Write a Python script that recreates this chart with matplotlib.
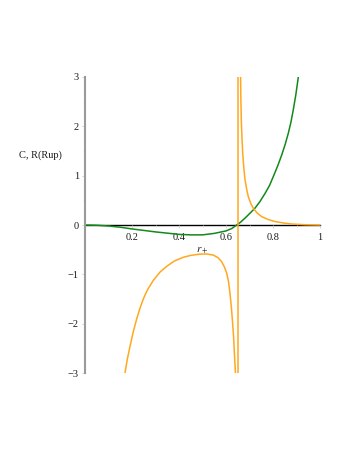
import numpy as np
import matplotlib
matplotlib.use("Agg")
import matplotlib.pyplot as plt
from matplotlib.ticker import FixedLocator, FixedFormatter, MultipleLocator

# ============================================================
# Data (r_+ on x, C and R on y)
# ============================================================

# heat capacity C (green)
c_r = [0.0, 0.05, 0.10, 0.15, 0.20, 0.25, 0.30, 0.35, 0.40, 0.45, 0.50,
       0.55, 0.60, 0.625, 0.645, 0.66, 0.681, 0.70, 0.723, 0.745, 0.766,
       0.785, 0.801, 0.82, 0.837, 0.852, 0.865, 0.876, 0.886, 0.897, 0.908]
c_val = [0.0, -0.005, -0.02, -0.045, -0.08, -0.11, -0.14, -0.165, -0.19,
         -0.2, -0.2, -0.17, -0.12, -0.07, 0.0, 0.05, 0.14, 0.23, 0.34, 0.48,
         0.64, 0.80, 0.98, 1.2, 1.42, 1.64, 1.86, 2.08, 2.33, 2.64, 3.01]

# curvature R, branch left of the pole (orange)
rl_r = [0.170, 0.180, 0.191, 0.205, 0.220, 0.235, 0.248, 0.260, 0.270,
        0.291, 0.320, 0.347, 0.380, 0.418, 0.450, 0.489, 0.520, 0.546,
        0.565, 0.581, 0.593, 0.603, 0.611, 0.617, 0.623, 0.628, 0.632,
        0.635, 0.640]
rl_val = [-3.0, -2.72, -2.47, -2.17, -1.90, -1.67, -1.50, -1.37, -1.28,
          -1.12, -0.95, -0.84, -0.73, -0.655, -0.615, -0.59, -0.588, -0.61,
          -0.66, -0.74, -0.85, -0.98, -1.16, -1.39, -1.68, -1.99, -2.25,
          -2.54, -3.0]

# jump across the pole, as Maple joins the two branches
jump_r = [0.652, 0.652]
jump_val = [-3.0, 3.0]

# curvature R, branch right of the pole
rr_r = [0.662, 0.663, 0.665, 0.668, 0.671, 0.676, 0.681, 0.688, 0.695,
        0.705, 0.716, 0.733, 0.752, 0.780, 0.809, 0.845, 0.880, 0.940, 1.0]
rr_val = [3.0, 2.6, 2.13, 1.75, 1.45, 1.14, 0.91, 0.72, 0.57, 0.44, 0.34,
          0.24, 0.17, 0.11, 0.07, 0.04, 0.02, 0.005, 0.0]

x_ticks = [0.2, 0.4, 0.6, 0.8, 1.0]
x_labels = ["0.2", "0.4", "0.6", "0.8", "1"]
y_ticks = [-3, -2, -1, 0, 1, 2, 3]
y_labels = ["\u22123", "\u22122", "\u22121", "0", "1", "2", "3"]

orange = "#FFA81E"
green = "#12891A"

# ============================================================
# Figure
# ============================================================

plt.rcParams["font.family"] = "Liberation Serif"
plt.rcParams["mathtext.fontset"] = "stix"

fig = plt.figure(figsize=(3.49, 4.51), dpi=100)
ax = fig.add_axes([0.2436, 0.1729, 0.6734, 0.6564])

ax.plot(c_r, c_val, color=green, lw=1.1)
ax.plot(rl_r, rl_val, color=orange, lw=1.1)
ax.plot(jump_r, jump_val, color=orange, lw=1.1)
ax.plot(rr_r, rr_val, color=orange, lw=1.1)

ax.set_xlim(0, 1)
ax.set_ylim(-3, 3)

for side in ["top", "right"]:
    ax.spines[side].set_visible(False)
ax.spines["bottom"].set_position(("data", 0))
ax.spines["bottom"].set_color("black")
ax.spines["bottom"].set_linewidth(1.0)
ax.spines["bottom"].set_zorder(1)
ax.spines["left"].set_color("#9a9a9a")
ax.spines["left"].set_linewidth(1.5)

ax.xaxis.set_major_locator(FixedLocator(x_ticks))
ax.xaxis.set_major_formatter(FixedFormatter(x_labels))
ax.xaxis.set_minor_locator(MultipleLocator(0.1))
ax.yaxis.set_major_locator(FixedLocator(y_ticks))
ax.yaxis.set_major_formatter(FixedFormatter(y_labels))
ax.yaxis.set_minor_locator(MultipleLocator(0.5))

ax.tick_params(axis="both", which="major", labelsize=7.5, length=2.5,
               width=0.6, color="#cfcfcf", labelcolor="#1a1a1a", pad=2)
ax.tick_params(axis="both", which="minor", length=1.5, width=0.5,
               color="#dddddd")
ax.tick_params(axis="x", which="both", direction="out", pad=3)

ax.set_xlabel(r"$r_+$", fontsize=8, labelpad=3, color="#1a1a1a")
ax.text(-0.19, 1.42, "C, R(Rup)", fontsize=7.5, color="#1a1a1a",
        transform=ax.get_yaxis_transform(), ha="center", va="center")

fig.savefig("out.png", dpi=100)
